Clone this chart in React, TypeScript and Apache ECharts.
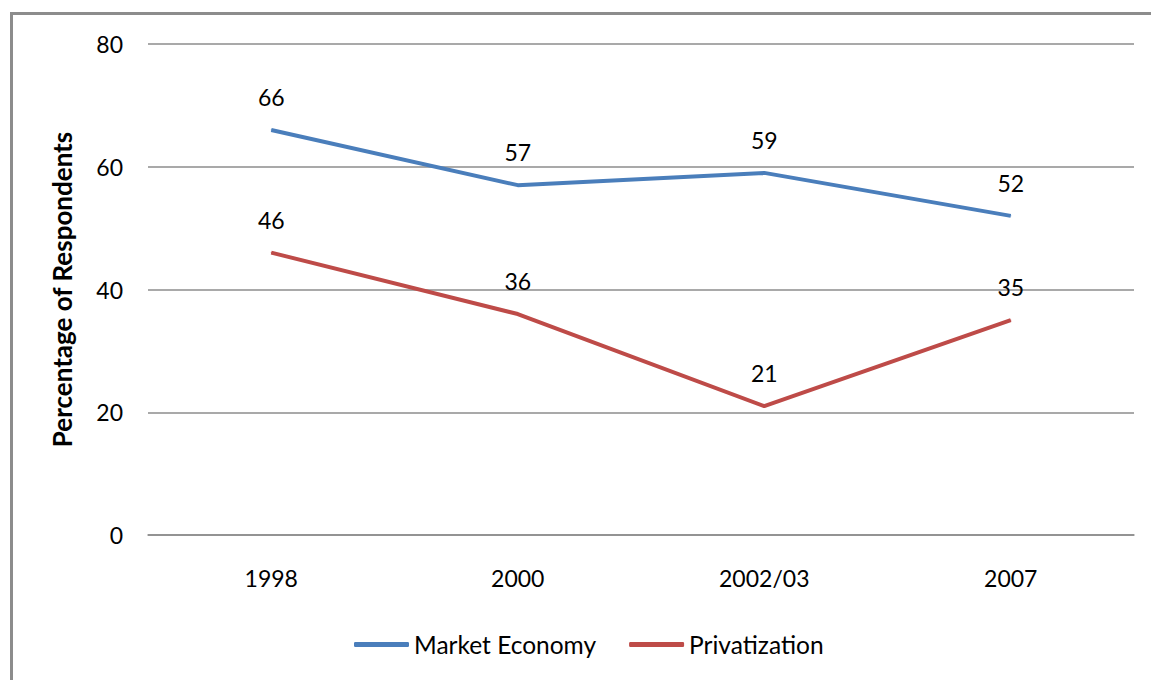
import React, { useEffect, useRef } from "react";
import * as echarts from "echarts";

const categories = ["1998", "2000", "2002/03", "2007"];
const marketEconomy = [66, 57, 59, 52];
const privatization = [46, 36, 21, 35];
const yTicks = { min: 0, max: 80, interval: 20 };

const FONT = "Lato, 'Open Sans', sans-serif";
const BLUE = "#4a7ebb";
const RED = "#be4b48";

export default function App() {
  const ref = useRef<HTMLDivElement>(null);
  useEffect(() => {
    if (!ref.current) return;
    const chart = echarts.init(ref.current, null, { renderer: "svg" });
    const labelStyle = {
      show: true,
      position: "top",
      distance: 21,
      fontSize: 23,
      color: "#000",
      fontFamily: FONT,
    };
    chart.setOption({
      animation: false,
      backgroundColor: "#ffffff",
      textStyle: { fontFamily: FONT },
      graphic: [
        {
          type: "rect",
          shape: { x: 11.5, y: 13.5, width: 1200, height: 720 },
          style: { fill: "none", stroke: "#8c8c8c", lineWidth: 3 },
          silent: true,
        },
      ],
      grid: { left: 148, right: 17, top: 44, bottom: 145 },
      legend: {
        top: 627,
        left: 349,
        itemWidth: 55,
        itemHeight: 5,
        itemGap: 33,
        icon: "roundRect",
        textStyle: { fontSize: 24.5, color: "#000", fontFamily: FONT },
        data: ["Market Economy", "Privatization"],
      },
      xAxis: {
        type: "category",
        data: categories,
        boundaryGap: true,
        axisLine: { show: true, lineStyle: { color: "#8c8c8c", width: 1.5 } },
        axisTick: { show: false },
        axisLabel: { fontSize: 23, color: "#000", margin: 31, fontFamily: FONT },
      },
      yAxis: {
        type: "value",
        min: yTicks.min,
        max: yTicks.max,
        interval: yTicks.interval,
        name: "Percentage of Respondents",
        nameLocation: "middle",
        nameGap: 73,
        nameTextStyle: { fontSize: 26, fontWeight: "bold", color: "#000", fontFamily: FONT },
        axisLine: { show: false },
        axisTick: { show: false },
        axisLabel: { fontSize: 23, color: "#000", margin: 25, fontFamily: FONT },
        splitLine: { lineStyle: { color: "#8c8c8c", width: 1.5 } },
      },
      series: [
        {
          name: "Market Economy",
          type: "line",
          data: marketEconomy,
          color: BLUE,
          symbol: "circle",
          symbolSize: 1,
          showSymbol: true,
          itemStyle: { color: BLUE },
          lineStyle: { width: 4, color: BLUE },
          label: labelStyle,
        },
        {
          name: "Privatization",
          type: "line",
          data: privatization,
          color: RED,
          symbol: "circle",
          symbolSize: 1,
          showSymbol: true,
          itemStyle: { color: RED },
          lineStyle: { width: 4, color: RED },
          label: labelStyle,
        },
      ],
    });
    return () => chart.dispose();
  }, []);
  return (
    <div
      ref={ref}
      style={{ position: "fixed", left: 0, top: 0, width: 1151, height: 680 }}
    />
  );
}
